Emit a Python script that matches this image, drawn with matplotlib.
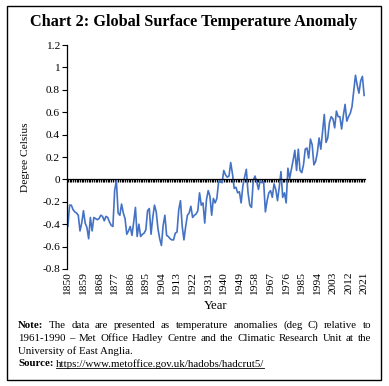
import matplotlib
matplotlib.use("Agg")
import matplotlib.pyplot as plt
import matplotlib.patches as patches
from matplotlib.lines import Line2D
import numpy as np

# HadCRUT5 global annual anomaly (deg C, vs 1961-1990)
years = np.arange(1850, 2022)
anomaly = [
    -0.42, -0.23, -0.23, -0.27, -0.29, -0.30, -0.32, -0.46, -0.39, -0.28,  # 1850s
    -0.39, -0.43, -0.53, -0.34, -0.46, -0.34, -0.35, -0.36, -0.35, -0.32,  # 1860s
    -0.33, -0.37, -0.33, -0.34, -0.38, -0.41, -0.42, -0.10, -0.01, -0.30,  # 1870s
    -0.32, -0.22, -0.30, -0.35, -0.49, -0.46, -0.42, -0.50, -0.38, -0.25,  # 1880s
    -0.51, -0.40, -0.51, -0.49, -0.48, -0.45, -0.28, -0.26, -0.49, -0.34,  # 1890s
    -0.23, -0.29, -0.44, -0.53, -0.59, -0.41, -0.32, -0.50, -0.51, -0.53,  # 1900s
    -0.54, -0.54, -0.48, -0.47, -0.27, -0.19, -0.42, -0.54, -0.42, -0.32,  # 1910s
    -0.30, -0.24, -0.34, -0.32, -0.31, -0.28, -0.12, -0.23, -0.21, -0.39,  # 1920s
    -0.18, -0.10, -0.15, -0.32, -0.17, -0.21, -0.17, -0.02, -0.01, -0.03,  # 1930s
    0.08, 0.04, 0.02, 0.03, 0.15, 0.05, -0.08, -0.07, -0.12, -0.11,        # 1940s
    -0.21, -0.06, 0.02, 0.09, -0.12, -0.23, -0.25, -0.01, 0.03, -0.02,     # 1950s
    -0.09, -0.01, -0.03, -0.02, -0.29, -0.19, -0.12, -0.10, -0.16, -0.04,  # 1960s
    -0.09, -0.19, -0.07, 0.07, -0.16, -0.12, -0.21, 0.10, 0.01, 0.09,      # 1970s
    0.17, 0.26, 0.08, 0.27, 0.08, 0.06, 0.13, 0.27, 0.28, 0.19,            # 1980s
    0.36, 0.31, 0.13, 0.16, 0.24, 0.37, 0.27, 0.43, 0.58, 0.33,            # 1990s
    0.37, 0.51, 0.56, 0.54, 0.46, 0.61, 0.56, 0.56, 0.45, 0.57,            # 2000s
    0.67, 0.52, 0.56, 0.59, 0.65, 0.79, 0.93, 0.84, 0.77, 0.88,            # 2010s
    0.92, 0.75,                                                            # 2020s
]
label_years = np.arange(1850, 2022, 9)
y_ticks = [-0.8, -0.6, -0.4, -0.2, 0, 0.2, 0.4, 0.6, 0.8, 1, 1.2]
y_labels = ["-0.8", "-0.6", "-0.4", "-0.2", "0", "0.2", "0.4", "0.6", "0.8", "1", "1.2"]

title = "Chart 2: Global Surface Temperature Anomaly"
note_lines = [
    "The data are presented as temperature anomalies (deg C) relative to",
    "1961-1990 \u2013 Met Office Hadley Centre and the Climatic Research Unit at the",
]
note_last = "University of East Anglia."
source_url = "https://www.metoffice.gov.uk/hadobs/hadcrut5/"

W, H = 389, 386
plt.rcParams["font.family"] = "Liberation Serif"

fig = plt.figure(figsize=(W / 100, H / 100), dpi=100)
ax = fig.add_axes([67 / W, 1 - 269 / H, 298 / W, 224 / H])

ax.plot(years, anomaly, color="#4472C4", lw=1.2)
ax.set_xlim(1849.5, 2021.5)
ax.set_ylim(-0.8, 1.2)

ax.set_yticks(y_ticks)
ax.set_yticklabels(y_labels, fontsize=8.2)
ax.tick_params(axis="y", length=3.5, width=0.8, pad=1.5)

# category axis crosses at zero, labels sit below the plot
for s in ("top", "right"):
    ax.spines[s].set_visible(False)
ax.spines["bottom"].set_position(("data", 0))
ax.spines["left"].set_linewidth(0.9)
ax.spines["bottom"].set_linewidth(0.9)
ax.set_xticks(label_years)
ax.set_xticklabels([str(y) for y in label_years], rotation=90, fontsize=8.2)
ax.set_xticks(years, minor=True)
ax.tick_params(axis="x", which="both", direction="out", length=2.5, width=0.9)
ax.tick_params(axis="x", which="major", pad=64)

ax.set_ylabel("Degree Celsius", fontsize=8.2)
ax.yaxis.set_label_coords(30 / W, 1 - 157 / H, transform=fig.transFigure)
fig.text(215.5 / W, 1 - 306 / H, "Year", fontsize=9.2, ha="center", va="center")

fig.text(193.5 / W, 1 - 22 / H, title, fontsize=11.7, fontweight="bold",
         ha="center", va="center")

# outer frame
fig.patches.append(patches.Rectangle((7 / W, 1 - 380 / H), 374 / W, 374 / H,
                                     transform=fig.transFigure, fill=False,
                                     edgecolor="black", lw=1.0))

# note block, justified like the source
fs = 7.8
x_left, x_right = 18, 371
rend = fig.canvas.get_renderer()


def justified(words, y, bold_first=False):
    objs = []
    for i, w in enumerate(words):
        weight = "bold" if (bold_first and i == 0) else "normal"
        objs.append(fig.text(0, 1 - y / H, w, fontsize=fs, fontweight=weight,
                             va="center", ha="left"))
    widths = [o.get_window_extent(rend).width for o in objs]
    gap = (x_right - x_left - sum(widths)) / (len(words) - 1)
    x = x_left
    for o, wd in zip(objs, widths):
        o.set_x(x / W)
        x += wd + gap


justified(["Note:"] + note_lines[0].split(), 325.5, bold_first=True)
justified(note_lines[1].split(), 338.5)
fig.text(x_left / W, 1 - 351.5 / H, note_last, fontsize=fs, va="center")

src = fig.text(x_left / W, 1 - 364 / H, "Source:", fontsize=fs,
               fontweight="bold", va="center")
sw = src.get_window_extent(rend).width
url = fig.text((x_left + sw + 2.5) / W, 1 - 364 / H, source_url, fontsize=fs,
               va="center")
ub = url.get_window_extent(rend)
fig.lines.append(Line2D([ub.x0 / W, ub.x1 / W], [(ub.y0 + 1.2) / H] * 2,
                        transform=fig.transFigure, color="black", lw=0.6))

fig.savefig("out.png", dpi=100)
